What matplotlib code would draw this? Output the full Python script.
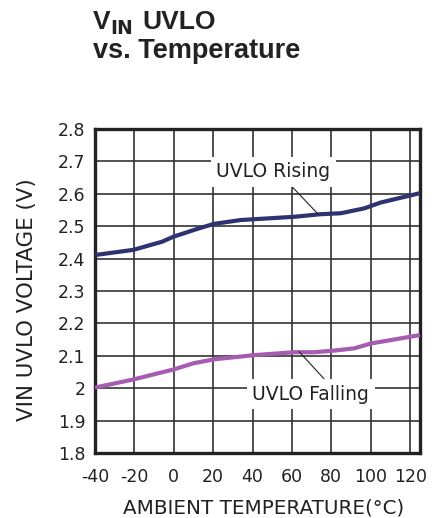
import matplotlib
matplotlib.use("Agg")
import matplotlib.pyplot as plt

plt.rcParams['font.family'] = ['DejaVu Sans']
plt.rcParams['axes.unicode_minus'] = False

temp_rising = [-40, -20.5, -6, 0, 12.6, 20.3, 33.9, 61, 74.6, 84.8, 96.7, 105, 125]
volt_rising = [2.411, 2.427, 2.452, 2.468, 2.493, 2.507, 2.519, 2.529, 2.537, 2.540, 2.555, 2.573, 2.602]

temp_falling = [-40, -20.5, 0, 10, 20.3, 40.7, 61, 71.2, 81.4, 91.6, 100.1, 125]
volt_falling = [2.002, 2.027, 2.058, 2.077, 2.089, 2.102, 2.111, 2.111, 2.116, 2.123, 2.138, 2.164]

x_ticks = [-40, -20, 0, 20, 40, 60, 80, 100, 120]
y_ticks = [1.8, 1.9, 2.0, 2.1, 2.2, 2.3, 2.4, 2.5, 2.6, 2.7, 2.8]
y_tick_labels = ['1.8', '1.9', '2', '2.1', '2.2', '2.3', '2.4', '2.5', '2.6', '2.7', '2.8']

TXT = '#222222'
fig = plt.figure(figsize=(4.38, 5.18), dpi=100)
W, H = 438, 518
ax = fig.add_axes([95 / W, 1 - 453 / H, (420 - 95) / W, (453 - 129) / H])

ax.set_xlim(-40, 125)
ax.set_ylim(1.8, 2.8)
ax.set_xticks(x_ticks)
ax.set_yticks(y_ticks)
ax.set_yticklabels(y_tick_labels)
ax.grid(True, color='#333333', linewidth=1.2)
ax.set_axisbelow(True)
ax.tick_params(length=0, labelsize=12.5, colors=TXT)
ax.tick_params(axis='x', pad=11)
ax.tick_params(axis='y', pad=7)
for s in ax.spines.values():
    s.set_linewidth(2.4)
    s.set_color('#222222')

ax.plot(temp_rising, volt_rising, color='#2e3270', linewidth=3.0, solid_capstyle='butt', zorder=3)
ax.plot(temp_falling, volt_falling, color='#a65cb0', linewidth=3.0, solid_capstyle='butt', zorder=3)

ax.annotate('UVLO Rising', xy=(73.3, 2.537), xytext=(50.5, 2.668),
            ha='center', va='center', fontsize=13.5, color=TXT,
            bbox=dict(boxstyle='square,pad=0.3', fc='white', ec='none'),
            arrowprops=dict(arrowstyle='-', color=TXT, lw=0.8, shrinkA=0, shrinkB=0,
                            relpos=(0.62, 0.0)),
            zorder=4)
ax.annotate('UVLO Falling', xy=(63.6, 2.113), xytext=(69.6, 1.981),
            ha='center', va='center', fontsize=13.5, color=TXT,
            bbox=dict(boxstyle='square,pad=0.3', fc='white', ec='none'),
            arrowprops=dict(arrowstyle='-', color=TXT, lw=0.8, shrinkA=0, shrinkB=0,
                            relpos=(0.66, 1.0)),
            zorder=4)

fig.text(263.5 / W, 1 - 508 / H, 'AMBIENT TEMPERATURE(\u00b0C)', fontsize=14.3,
         ha='center', va='center', color=TXT)
fig.text(27 / W, 1 - 300 / H, 'VIN UVLO VOLTAGE (V)', fontsize=15.4, rotation=90,
         ha='center', va='center', color=TXT)

tfont = dict(family='Liberation Sans', fontweight='bold', color=TXT)
fig.text(93 / W, 1 - 28.5 / H, 'V', fontsize=19, ha='left', va='baseline', **tfont)
fig.text(110 / W, 1 - 33.5 / H, 'IN', fontsize=13.5, ha='left', va='baseline',
         family='DejaVu Sans', fontweight='bold', color=TXT)
fig.text(142 / W, 1 - 28.5 / H, 'UVLO', fontsize=19, ha='left', va='baseline', **tfont)
fig.text(93 / W, 1 - 58 / H, 'vs. Temperature', fontsize=19.5, ha='left', va='baseline', **tfont)

fig.savefig('out.png', dpi=100, facecolor='white')
